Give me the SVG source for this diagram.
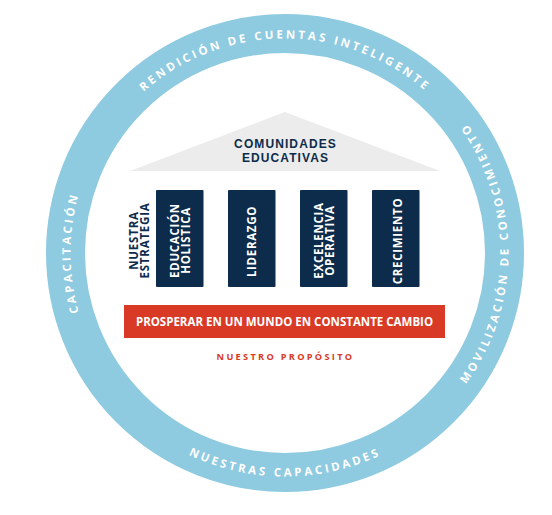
<svg xmlns="http://www.w3.org/2000/svg" width="552" height="515" viewBox="0 0 552 515">
<style>
.ring{fill:none;stroke:#8ecae0;stroke-width:39}
.rt{font-family:"Open Sans","Liberation Sans",sans-serif;font-weight:700;font-size:11.5px;fill:#ffffff;letter-spacing:2.9px}
.pil{fill:#0d2b4b}
.pt{font-family:"Open Sans","Liberation Sans",sans-serif;font-weight:700;font-size:11.5px;fill:#ffffff;letter-spacing:0.7px;text-anchor:middle}
.nv{font-family:"Open Sans","Liberation Sans",sans-serif;font-weight:700;font-size:11.5px;fill:#0d2b4b;letter-spacing:0.8px;text-anchor:middle}
.rf{font-family:"Liberation Sans",Arial,sans-serif;font-weight:700;font-size:12px;fill:#0d2b4b;letter-spacing:1.1px;text-anchor:middle}
</style>
<defs>
<path id="cw" d="M285,467.5 A214.5,214.5 0 1 1 285,38.5 A214.5,214.5 0 1 1 285,467.5"/>
<path id="ccw" d="M285,29.5 A223.5,223.5 0 1 0 285,476.5 A223.5,223.5 0 1 0 285,29.5"/>
</defs>
<rect width="552" height="515" fill="#ffffff"/>
<g id="ring">
<circle class="ring" cx="285" cy="253" r="219.5"/>
<text class="rt"><textPath href="#cw" startOffset="50%" text-anchor="middle">RENDICIÓN DE CUENTAS INTELIGENTE</textPath></text>
<text class="rt"><textPath href="#cw" startOffset="25%" text-anchor="middle">CAPACITACIÓN</textPath></text>
<text class="rt"><textPath href="#ccw" startOffset="75%" text-anchor="middle">MOVILIZACIÓN DE CONOCIMIENTO</textPath></text>
<text class="rt"><textPath href="#ccw" startOffset="50%" text-anchor="middle">NUESTRAS CAPACIDADES</textPath></text>
</g>
<g id="roof">
<polygon points="285,112 130,171 440,171" fill="#ececec"/>
<text class="rf"><tspan x="285.5" y="148">COMUNIDADES</tspan><tspan x="285.5" y="162">EDUCATIVAS</tspan></text>
</g>
<g id="estrategia">
<text class="nv" transform="translate(139,240.5) rotate(-90)"><tspan x="0" y="-0.7">NUESTRA</tspan><tspan x="0" y="9.5">ESTRATEGIA</tspan></text>
</g>
<g id="pilar-educacion">
<rect class="pil" x="156" y="190" width="47.5" height="97" rx="1"/>
<text class="pt" transform="translate(179.5,240.5) rotate(-90)"><tspan x="0" y="-1">EDUCACIÓN</tspan><tspan x="0" y="10">HOLISTICA</tspan></text>
</g>
<g id="pilar-liderazgo">
<rect class="pil" x="228" y="190" width="47.5" height="97" rx="1"/>
<text class="pt" transform="translate(251.5,241.5) rotate(-90)" x="0" y="4.5">LIDERAZGO</text>
</g>
<g id="pilar-excelencia">
<rect class="pil" x="300" y="190" width="47.5" height="97" rx="1"/>
<text class="pt" transform="translate(324,240.5) rotate(-90)"><tspan x="0" y="-1">EXCELENCIA</tspan><tspan x="0" y="10">OPERATIVA</tspan></text>
</g>
<g id="pilar-crecimiento">
<rect class="pil" x="372" y="190" width="47.5" height="97" rx="1"/>
<text class="pt" transform="translate(397.5,241) rotate(-90)" x="0" y="4.5">CRECIMIENTO</text>
</g>
<g id="proposito">
<rect x="124" y="305" width="321" height="33" fill="#d93a26"/>
<text x="284.5" y="325.7" text-anchor="middle" font-family="Open Sans, Liberation Sans, sans-serif" font-weight="700" font-size="11.5" fill="#ffffff">PROSPERAR EN UN MUNDO EN CONSTANTE CAMBIO</text>
<text x="285.5" y="360" text-anchor="middle" font-family="Open Sans, Liberation Sans, sans-serif" font-weight="700" font-size="9.2" letter-spacing="2.3" fill="#d93a26">NUESTRO PROPÓSITO</text>
</g>
</svg>
